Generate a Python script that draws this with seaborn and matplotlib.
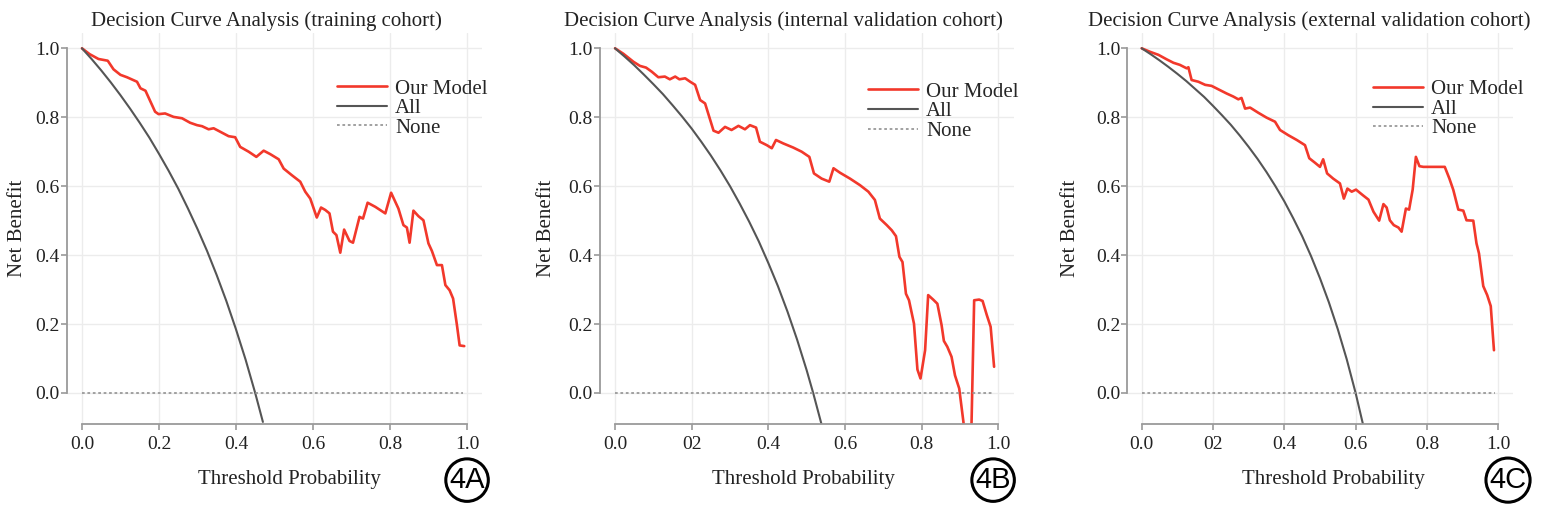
import matplotlib
matplotlib.use("Agg")
import matplotlib.pyplot as plt
import seaborn as sns

# ---- data ----
titles = ["Decision Curve Analysis (training cohort)",
          "Decision Curve Analysis (internal validation cohort)",
          "Decision Curve Analysis (external validation cohort)"]
panel_tags = ["4A", "4B", "4C"]
xtick_vals = [0.0, 0.2, 0.4, 0.6, 0.8, 1.0]
ytick_vals = [0.0, 0.2, 0.4, 0.6, 0.8, 1.0]
xtick_labels_a = ["0.0", "0.2", "0.4", "0.6", "0.8", "1.0"]
xtick_labels_bc = ["0.0", "02", "0.4", "0.6", "0.8", "1.0"]
ytick_labels = ["0.0", "0.2", "0.4", "0.6", "0.8", "1.0"]

# training cohort
model_a_x = [0.0, 0.02, 0.043, 0.067, 0.082, 0.1, 0.117, 0.143, 0.152, 0.165, 0.19, 0.199,
             0.216, 0.238, 0.26, 0.281, 0.299, 0.312, 0.329, 0.342, 0.359, 0.381, 0.398,
             0.411, 0.433, 0.453, 0.472, 0.489, 0.511, 0.524, 0.545, 0.567, 0.58, 0.593,
             0.602, 0.61, 0.621, 0.632, 0.643, 0.652, 0.661, 0.671, 0.681, 0.695, 0.704,
             0.721, 0.73, 0.742, 0.762, 0.788, 0.803, 0.822, 0.835, 0.844, 0.851, 0.861,
             0.874, 0.887, 0.9, 0.909, 0.922, 0.935, 0.944, 0.955, 0.964, 0.974, 0.981, 0.993]
model_a_y = [1.0, 0.983, 0.969, 0.964, 0.939, 0.923, 0.916, 0.903, 0.884, 0.877, 0.816, 0.809,
             0.811, 0.801, 0.797, 0.784, 0.777, 0.774, 0.765, 0.768, 0.758, 0.745, 0.742,
             0.714, 0.70, 0.685, 0.703, 0.693, 0.678, 0.651, 0.632, 0.613, 0.584, 0.564,
             0.535, 0.509, 0.538, 0.531, 0.521, 0.468, 0.458, 0.407, 0.474, 0.441, 0.436,
             0.511, 0.506, 0.552, 0.54, 0.521, 0.581, 0.535, 0.487, 0.48, 0.436, 0.529,
             0.513, 0.501, 0.434, 0.412, 0.371, 0.371, 0.313, 0.298, 0.274, 0.197, 0.138, 0.136]
all_a_x = [0.0, 0.025, 0.05, 0.075, 0.1, 0.125, 0.15, 0.175, 0.2, 0.225, 0.25, 0.275,
           0.3, 0.325, 0.35, 0.375, 0.4, 0.425, 0.45, 0.47]
all_a_y = [1.0, 0.969, 0.936, 0.901, 0.864, 0.825, 0.784, 0.741, 0.694, 0.645, 0.593, 0.536,
           0.476, 0.412, 0.342, 0.267, 0.185, 0.097, 0.0, -0.084]

# internal validation cohort
model_b_x = [0.0, 0.022, 0.048, 0.065, 0.081, 0.096, 0.113, 0.13, 0.143, 0.157, 0.168, 0.183,
             0.196, 0.209, 0.222, 0.235, 0.257, 0.27, 0.287, 0.304, 0.322, 0.339, 0.352,
             0.368, 0.378, 0.396, 0.409, 0.42, 0.439, 0.465, 0.487, 0.507, 0.519, 0.539,
             0.559, 0.57, 0.587, 0.613, 0.639, 0.661, 0.678, 0.691, 0.709, 0.722, 0.733,
             0.742, 0.75, 0.759, 0.767, 0.78, 0.789, 0.797, 0.809, 0.817, 0.83, 0.841,
             0.852, 0.858, 0.867, 0.878, 0.887, 0.898, 0.909, 0.918, 0.928, 0.937, 0.95,
             0.959, 0.97, 0.98, 0.989]
model_b_y = [1.0, 0.984, 0.961, 0.949, 0.944, 0.932, 0.916, 0.918, 0.91, 0.918, 0.91, 0.913,
             0.903, 0.894, 0.85, 0.84, 0.761, 0.755, 0.772, 0.763, 0.775, 0.765, 0.777,
             0.77, 0.729, 0.719, 0.71, 0.734, 0.724, 0.712, 0.70, 0.685, 0.637, 0.622,
             0.613, 0.652, 0.639, 0.622, 0.603, 0.584, 0.56, 0.506, 0.487, 0.472, 0.455,
             0.395, 0.38, 0.288, 0.269, 0.201, 0.068, 0.042, 0.124, 0.284, 0.271, 0.259,
             0.197, 0.151, 0.134, 0.105, 0.051, 0.013, -0.084, -0.2, -0.2, 0.269, 0.271,
             0.267, 0.226, 0.192, 0.076]
all_b_x = [0.0, 0.025, 0.05, 0.075, 0.1, 0.125, 0.15, 0.175, 0.2, 0.225, 0.25, 0.275,
           0.3, 0.325, 0.35, 0.375, 0.4, 0.425, 0.45, 0.475, 0.5, 0.517, 0.54]
all_b_y = [1.0, 0.976, 0.951, 0.924, 0.896, 0.867, 0.835, 0.802, 0.767, 0.729, 0.689, 0.646,
           0.600, 0.550, 0.497, 0.440, 0.377, 0.310, 0.236, 0.155, 0.066, 0.0, -0.096]

# external validation cohort
model_c_x = [0.0, 0.023, 0.047, 0.07, 0.089, 0.107, 0.126, 0.131, 0.14, 0.159, 0.178, 0.196,
             0.215, 0.238, 0.257, 0.271, 0.28, 0.29, 0.304, 0.327, 0.35, 0.374, 0.388,
             0.411, 0.435, 0.458, 0.47, 0.486, 0.5, 0.509, 0.52, 0.537, 0.556, 0.567,
             0.577, 0.589, 0.601, 0.62, 0.636, 0.65, 0.666, 0.678, 0.687, 0.696, 0.707,
             0.72, 0.729, 0.741, 0.75, 0.76, 0.769, 0.779, 0.79, 0.85, 0.863, 0.874,
             0.888, 0.902, 0.911, 0.93, 0.939, 0.946, 0.958, 0.969, 0.979, 0.988]
model_c_y = [1.0, 0.99, 0.981, 0.968, 0.958, 0.952, 0.942, 0.945, 0.908, 0.903, 0.894, 0.891,
             0.881, 0.869, 0.86, 0.852, 0.856, 0.825, 0.828, 0.813, 0.799, 0.787, 0.763,
             0.748, 0.734, 0.719, 0.681, 0.668, 0.656, 0.678, 0.637, 0.622, 0.608, 0.564,
             0.593, 0.584, 0.59, 0.574, 0.561, 0.526, 0.50, 0.548, 0.538, 0.501, 0.487,
             0.48, 0.468, 0.535, 0.532, 0.59, 0.685, 0.658, 0.656, 0.656, 0.622, 0.589,
             0.532, 0.529, 0.501, 0.50, 0.434, 0.405, 0.31, 0.284, 0.252, 0.124]
all_c_x = [0.0, 0.025, 0.05, 0.075, 0.1, 0.125, 0.15, 0.175, 0.2, 0.225, 0.25, 0.275,
           0.3, 0.325, 0.35, 0.375, 0.4, 0.425, 0.45, 0.475, 0.5, 0.525, 0.55, 0.575,
           0.6, 0.62]
all_c_y = [1.0, 0.983, 0.965, 0.946, 0.926, 0.905, 0.882, 0.859, 0.833, 0.806, 0.778, 0.747,
           0.714, 0.679, 0.641, 0.600, 0.556, 0.507, 0.455, 0.397, 0.333, 0.263, 0.185, 0.098,
           0.0, -0.088]

none_x = [0.0, 0.99]
none_y = [0.0, 0.0]

# ---- style ----
sns.set_style("white")
plt.rcParams["font.family"] = ["Liberation Serif", "DejaVu Serif"]

RED = "#f2382b"
DARK = "#555555"
GREY = "#9a9a9a"
TXT = "#222222"

fig = plt.figure(figsize=(15.44, 5.23), dpi=100)

# axes rectangles in figure fraction (left, bottom, width, height)
rects = [(0.0431, 0.1893, 0.2693, 0.748),
         (0.3884, 0.1893, 0.2681, 0.748),
         (0.7302, 0.1893, 0.2494, 0.748)]
models = [(model_a_x, model_a_y), (model_b_x, model_b_y), (model_c_x, model_c_y)]
alls = [(all_a_x, all_a_y), (all_b_x, all_b_y), (all_c_x, all_c_y)]
xtick_sets = [xtick_labels_a, xtick_labels_bc, xtick_labels_bc]
title_x = [0.481, 0.443, 0.472]
xlabel_x = [0.537, 0.493, 0.534]
ylabel_x = [-0.095, -0.106, -0.123]
legend_anchor = [(0.65, 0.882), (0.648, 0.874), (0.637, 0.88)]
tag_pos = [(0.3025, 0.082), (0.6432, 0.082), (0.9767, 0.082)]

for i in range(3):
    ax = fig.add_axes(rects[i])
    mx, my = models[i]
    axx, axy = alls[i]
    sns.lineplot(x=mx, y=my, ax=ax, color=RED, lw=1.9, label="Our Model",
                 estimator=None, sort=False)
    sns.lineplot(x=axx, y=axy, ax=ax, color=DARK, lw=1.5, label="All",
                 estimator=None, sort=False)
    sns.lineplot(x=none_x, y=none_y, ax=ax, color=GREY, lw=1.3, ls=(0, (1.5, 1.5)),
                 label="None", estimator=None, sort=False)

    ax.set_xlim(-0.04, 1.04)
    ax.set_ylim(-0.09, 1.045)
    ax.set_xticks(xtick_vals)
    ax.set_xticklabels(xtick_sets[i])
    ax.set_yticks(ytick_vals)
    ax.set_yticklabels(ytick_labels)
    ax.grid(True, color="#ececec", lw=1.0)
    ax.set_axisbelow(True)

    for side in ["top", "right"]:
        ax.spines[side].set_visible(False)
    ax.spines["left"].set_bounds(0, 1)
    ax.spines["bottom"].set_bounds(0, 1)
    for side in ["left", "bottom"]:
        ax.spines[side].set_color(GREY)
        ax.spines[side].set_linewidth(1.3)
    ax.tick_params(axis="both", left=True, bottom=True, direction="out", length=4,
                   width=1.2, color=GREY, labelsize=14, labelcolor=TXT)
    ax.tick_params(axis="x", pad=5)
    ax.tick_params(axis="y", pad=1)

    ax.text(title_x[i], 1.017, titles[i], transform=ax.transAxes, ha="center",
            va="baseline", fontsize=15, color=TXT)
    ax.set_xlabel("Threshold Probability", fontsize=15, color=TXT)
    ax.xaxis.set_label_coords(xlabel_x[i], -0.118)
    ax.set_ylabel("Net Benefit", fontsize=15, color=TXT)
    ax.yaxis.set_label_coords(ylabel_x[i], 0.5)

    ax.legend(loc="upper left", bbox_to_anchor=legend_anchor[i], frameon=False,
              fontsize=15, handlelength=2.4, handletextpad=0.4, labelspacing=0.0,
              borderpad=0, borderaxespad=0)

    fig.text(tag_pos[i][0], tag_pos[i][1], panel_tags[i], ha="center", va="center",
             fontsize=21, family="Liberation Sans", color="black",
             bbox=dict(boxstyle="circle,pad=0.12", fc="white", ec="black", lw=2.2))

fig.savefig("out.png", dpi=100)
